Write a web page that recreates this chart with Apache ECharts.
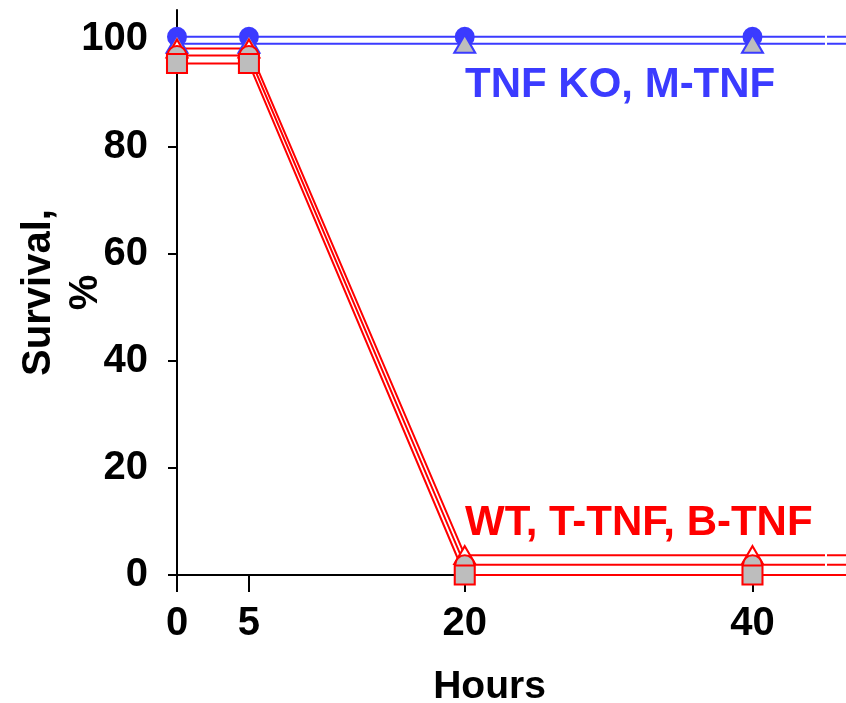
<!DOCTYPE html>
<html>
<head>
<meta charset="utf-8">
<script src="https://cdn.jsdelivr.net/npm/echarts@6/dist/echarts.min.js"></script>
<style>
  html, body { margin: 0; padding: 0; background: #fff; }
  #chart { width: 846px; height: 703px; }
</style>
</head>
<body>
<div id="chart"></div>
<script>
// Survival over time after challenge, by genotype
const hours = [0, 5, 20, 40, 46.5];
const hourTicks = [0, 5, 20, 40];
const survivalTicks = [0, 20, 40, 60, 80, 100];

// blue group
const tnfKo = [100.5, 100.5, 100.5, 100.5, 100.5];
const mTnf = [99.2, 99.2, 99.2, 99.2, 99.2];
// red group
const wt = [98.3, 98.3, 3.7, 3.7, 3.7];
const tTnf = [97.0, 97.0, 1.9, 1.9, 1.9];
const bTnf = [95.5, 95.5, 0, 0, 0];

// where the time axis is broken
const breakHour = 45.1;

const BLUE = '#3b3bff';
const RED = '#ff0000';
const GREY = '#bdbdbd';
const FONT = '"Liberation Sans", Arial, sans-serif';

function pairs(vals) {
  return hours.map((h, i) => [h, vals[i]]);
}

// markers only on measured time points; the last point just carries the line on
function mk(shape) {
  return (value, params) => (params.dataIndex < hourTicks.length ? shape : 'none');
}

function series(name, vals, color, shape, size, fill) {
  return {
    name: name,
    type: 'line',
    data: pairs(vals),
    clip: false,
    symbol: mk(shape),
    symbolSize: size,
    showAllSymbol: true,
    lineStyle: { color: color, width: 2 },
    itemStyle: { color: fill, borderColor: color, borderWidth: 2 },
    emphasis: { disabled: true },
    animation: false
  };
}

const chart = echarts.init(document.getElementById('chart'));
chart.setOption({
  animation: false,
  grid: { left: 177, right: 0, top: 10, bottom: 128, containLabel: false, outerBoundsMode: 'none' },
  xAxis: {
    type: 'value',
    min: 0,
    max: 46.5,
    name: 'Hours',
    nameLocation: 'middle',
    nameGap: 93,
    nameMoveOverlap: false,
    nameTextStyle: {
      fontFamily: FONT, fontWeight: 'bold', fontSize: 39, color: '#000',
      padding: [0, 44, 0, 0]
    },
    axisLine: { show: true, onZero: false, lineStyle: { color: '#000', width: 2 } },
    axisTick: { show: true, length: 17, customValues: hourTicks, lineStyle: { color: '#000', width: 2 } },
    axisLabel: {
      customValues: hourTicks, margin: 29,
      fontFamily: FONT, fontWeight: 'bold', fontSize: 40, color: '#000'
    },
    splitLine: { show: false }
  },
  yAxis: {
    type: 'value',
    min: 0,
    max: 105.5,
    name: 'Survival,\n%',
    nameLocation: 'middle',
    nameRotate: 90,
    nameGap: 68,
    nameMoveOverlap: false,
    nameTextStyle: { fontFamily: FONT, fontWeight: 'bold', fontSize: 40, lineHeight: 47, color: '#000' },
    axisLine: { show: true, lineStyle: { color: '#000', width: 2 } },
    axisTick: { show: true, length: 9, customValues: survivalTicks, lineStyle: { color: '#000', width: 2 } },
    axisLabel: {
      customValues: survivalTicks, margin: 29,
      fontFamily: FONT, fontWeight: 'bold', fontSize: 40, color: '#000'
    },
    splitLine: { show: false }
  },
  series: [
    series('TNF KO', tnfKo, BLUE, 'circle', 18, BLUE),
    series('M-TNF', mTnf, BLUE, 'triangle', [21, 18], GREY),
    series('WT', wt, RED, 'triangle', [21, 18], '#fff'),
    series('T-TNF', tTnf, RED, 'circle', 19, GREY),
    series('B-TNF', bTnf, RED, 'rect', [20, 19], GREY)
  ],
  graphic: [
    {
      type: 'text', left: 465, top: 64, silent: true,
      style: { text: 'TNF KO, M-TNF', fill: BLUE, font: 'bold 42px ' + FONT }
    },
    {
      type: 'text', left: 465, top: 502, silent: true,
      style: { text: 'WT, T-TNF, B-TNF', fill: RED, font: 'bold 42px ' + FONT }
    }
  ]
});

// small white gaps marking the axis break on the lines that continue
const bx = Math.round(chart.convertToPixel({ gridIndex: 0 }, [breakHour, 0])[0]);
const bands = [[102.5, 98], [4.5, 0.9]];
chart.setOption({
  graphic: bands.map((b, i) => {
    const y1 = chart.convertToPixel({ gridIndex: 0 }, [breakHour, b[0]])[1];
    const y2 = chart.convertToPixel({ gridIndex: 0 }, [breakHour, b[1]])[1];
    return {
      id: 'gap' + i, type: 'rect', silent: true, z: 100,
      shape: { x: bx - 1, y: y1, width: 2, height: y2 - y1 },
      style: { fill: '#fff' }
    };
  })
});
</script>
</body>
</html>
